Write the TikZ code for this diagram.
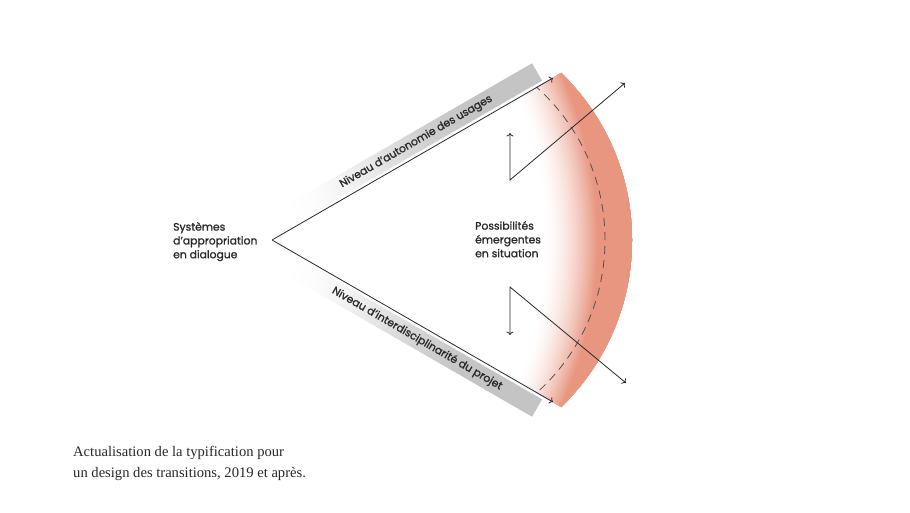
\documentclass[tikz,border=0pt]{standalone}
\usepackage{fontspec}
\setmainfont{Liberation Serif}
\newfontfamily\lab{Poppins}[FakeBold=1.1]
\usetikzlibrary{arrows.meta}
\definecolor{band}{RGB}{232,150,128}
\definecolor{barc}{RGB}{196,196,196}
\definecolor{ink}{RGB}{40,40,40}
\definecolor{dashc}{RGB}{80,80,80}
\begin{document}
\begin{tikzpicture}[x=1pt,y=1pt,
  conn/.style={draw=ink, line width=0.8pt, -{To[length=3.5pt,width=7pt]}},
  zig/.style={draw=ink, line width=0.8pt, {To[length=3.5pt,width=7pt]}-{To[length=3.5pt,width=7pt]}},
  lbl/.style={font=\lab\fontsize{10.8}{13.8}\selectfont, text=ink, align=left, anchor=north west, inner sep=0pt},
  bartxt/.style={font=\lab\fontsize{10.8}{12}\selectfont, text=ink, inner sep=0pt},
  dashline/.style={draw=dashc, line width=0.8pt, dash pattern=on 8pt off 6pt}]
\useasboundingbox[fill=white] (0,0) rectangle (910,512);
\coordinate (apex) at (272,272);
\coordinate (U) at (553,434);
\coordinate (L) at (553,110);

% gray bars
\begin{scope}[shift={(apex)}, rotate=30]
  \foreach \i in {0,...,59} {
    \pgfmathsetmacro\ta{25+\i*4.8}
    \pgfmathsetmacro\tb{\ta+5.4}
    \pgfmathsetmacro\u{min(1,max(0,(\ta+2.4-25)/230))}
    \pgfmathsetmacro\p{100*\u*\u*(3-2*\u)}
    \fill[barc!\p!white] (\ta,3) rectangle (\tb,23);
  }
  \fill[barc] (311,3) rectangle (312,23);
  \node[bartxt, rotate=30] (auto) at (174,13) {Niveau d’autonomie des usages};
\end{scope}
\begin{scope}[shift={(apex)}, rotate=-30]
  \foreach \i in {0,...,59} {
    \pgfmathsetmacro\ta{25+\i*4.8}
    \pgfmathsetmacro\tb{\ta+5.4}
    \pgfmathsetmacro\u{min(1,max(0,(\ta+2.4-25)/230))}
    \pgfmathsetmacro\p{100*\u*\u*(3-2*\u)}
    \fill[barc!\p!white] (\ta,-3) rectangle (\tb,-23);
  }
  \fill[barc] (311,-3) rectangle (312,-23);
  \node[bartxt, rotate=-30] (inter) at (175,-13) {Niveau d’interdisciplinarité du projet};
\end{scope}

% red band with fade
\begin{scope}
  \clip (272,272) -- (635.7,482) -- (635.7,62) -- cycle;
  \clip (400,272) circle (232);
  \foreach \k in {0,...,36} {
    \pgfmathsetmacro\s{54-\k*1.5}
    \pgfmathsetmacro\p{100*(1-\s/54)^1.7}
    \pgfmathsetmacro\cx{197-\s}
    \fill[band!\p!white, even odd rule] (0,0) rectangle (910,512) (\cx,272) circle (400);
  }
  \draw[dashline] (400,272) circle (205);
\end{scope}

% connectors
\draw[conn] (apex) -- (U);
\draw[conn] (apex) -- (L);
\coordinate (z1a) at (510,379);
\coordinate (z1b) at (510,332);
\coordinate (z1c) at (625,429);
\coordinate (z2a) at (510,177);
\coordinate (z2b) at (510,225);
\coordinate (z2c) at (626,129);
\draw[zig] (z1a) -- (z1b) -- (z1c);
\draw[zig] (z2a) -- (z2b) -- (z2c);

% labels
\node[lbl] (sys) at (173,290) {Systèmes\\d’appropriation\\en dialogue};
\node[lbl] (pos) at (475,291) {Possibilités\\émergentes\\en situation};

% caption
\node[anchor=base west, inner sep=0pt, font=\fontsize{14.6}{21}\selectfont, text=ink] (cap1) at (73,56) {Actualisation de la typification pour};
\node[anchor=base west, inner sep=0pt, font=\fontsize{14.6}{21}\selectfont, text=ink] (cap2) at (73,35) {un design des transitions, 2019 et après.};
\end{tikzpicture}
\end{document}
